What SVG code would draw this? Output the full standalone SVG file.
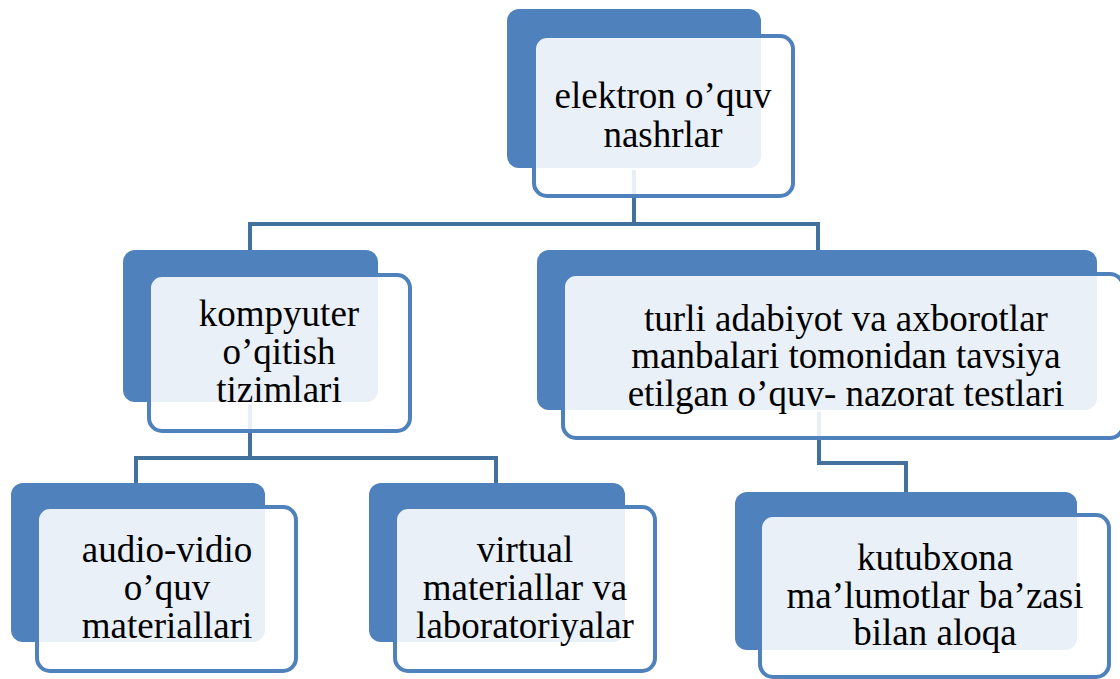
<svg xmlns="http://www.w3.org/2000/svg" width="1120" height="679" viewBox="0 0 1120 679">
<style>
.back{fill:#4F81BD;}
.front{fill:#FFFFFF;fill-opacity:0.88;stroke:#4F81BD;stroke-width:4;}
.conn{fill:none;stroke:#41719C;stroke-width:4;}
.t{font-size:37px;fill:#000;text-anchor:middle;}
</style>
<rect width="1120" height="679" fill="#FFFFFF"/>
<g id="connectors">
<path class="conn" d="M634,170 V224 M250,224 H818 M250,222 V252 M818,222 V252"/>
<path class="conn" d="M250,404 V458 M136,458 H496 M136,456 V485 M496,456 V485"/>
<path class="conn" d="M819,412 V463 H906 V492"/>
</g>
<g font-family="Liberation Serif, DejaVu Serif, serif">
<g id="node-elektron">
<rect class="back" x="507" y="9" width="254" height="159" rx="12"/>
<rect class="front" x="534" y="36" width="259" height="160" rx="13"/>
<text class="t"><tspan x="663" y="108">elektron o’quv</tspan><tspan x="663" y="147">nashrlar</tspan></text>
</g>
<g id="node-kompyuter">
<rect class="back" x="123" y="250" width="255" height="152" rx="12"/>
<rect class="front" x="149" y="275" width="261" height="156" rx="13"/>
<text class="t"><tspan x="279" y="326">kompyuter</tspan><tspan x="279" y="364">o’qitish</tspan><tspan x="279" y="402">tizimlari</tspan></text>
</g>
<g id="node-turli">
<rect class="back" x="537" y="250" width="560" height="160" rx="12"/>
<rect class="front" x="563" y="274" width="560" height="164" rx="13"/>
<text class="t"><tspan x="846" y="331">turli adabiyot va axborotlar</tspan><tspan x="846" y="368">manbalari tomonidan tavsiya</tspan><tspan x="846" y="406">etilgan o’quv- nazorat testlari</tspan></text>
</g>
<g id="node-audio">
<rect class="back" x="11" y="483" width="254" height="159" rx="12"/>
<rect class="front" x="37" y="507" width="259" height="164" rx="13"/>
<text class="t"><tspan x="167" y="562">audio-vidio</tspan><tspan x="167" y="600">o’quv</tspan><tspan x="167" y="638">materiallari</tspan></text>
</g>
<g id="node-virtual">
<rect class="back" x="369" y="483" width="256" height="159" rx="12"/>
<rect class="front" x="395" y="507" width="260" height="164" rx="13"/>
<text class="t"><tspan x="525" y="562">virtual</tspan><tspan x="525" y="600">materiallar va</tspan><tspan x="525" y="638">laboratoriyalar</tspan></text>
</g>
<g id="node-kutubxona">
<rect class="back" x="735" y="492" width="342" height="158" rx="12"/>
<rect class="front" x="760" y="515" width="349" height="162" rx="13"/>
<text class="t"><tspan x="935" y="570">kutubxona</tspan><tspan x="935" y="608">ma’lumotlar ba’zasi</tspan><tspan x="935" y="645">bilan aloqa</tspan></text>
</g>
</g>
</svg>
